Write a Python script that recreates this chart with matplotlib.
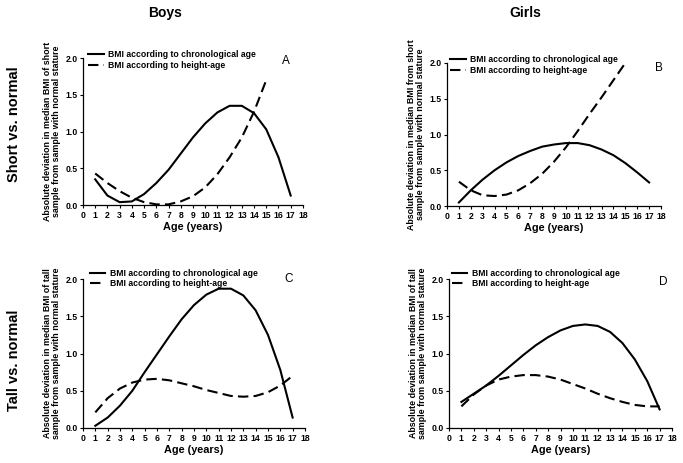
import matplotlib
matplotlib.use("Agg")
import matplotlib.pyplot as plt
from matplotlib.lines import Line2D

plt.rcParams['font.family'] = ['Liberation Sans', 'DejaVu Sans']

ages_solid = list(range(1, 18))
ages_dash_short = list(range(1, 16))
ages_dash_tall = list(range(1, 18))

a_chrono = [0.35, 0.13, 0.04, 0.05, 0.15, 0.30, 0.48, 0.70, 0.92, 1.11, 1.26, 1.35, 1.35, 1.25, 1.03, 0.65, 0.13]
a_height = [0.43, 0.30, 0.19, 0.10, 0.04, 0.01, 0.01, 0.05, 0.12, 0.24, 0.42, 0.65, 0.92, 1.27, 1.70]

b_chrono = [0.05, 0.22, 0.37, 0.50, 0.61, 0.70, 0.77, 0.83, 0.86, 0.88, 0.88, 0.85, 0.79, 0.71, 0.60, 0.47, 0.33]
b_height = [0.34, 0.22, 0.15, 0.14, 0.16, 0.22, 0.32, 0.45, 0.62, 0.82, 1.05, 1.29, 1.52, 1.76, 2.00]

c_chrono = [0.03, 0.14, 0.30, 0.50, 0.75, 0.99, 1.23, 1.46, 1.65, 1.79, 1.87, 1.87, 1.78, 1.58, 1.25, 0.78, 0.14]
c_height = [0.21, 0.40, 0.53, 0.61, 0.65, 0.66, 0.64, 0.60, 0.56, 0.51, 0.47, 0.43, 0.42, 0.43, 0.48, 0.57, 0.70]

d_chrono = [0.35, 0.46, 0.57, 0.70, 0.84, 0.98, 1.11, 1.22, 1.31, 1.37, 1.39, 1.37, 1.29, 1.14, 0.92, 0.63, 0.25]
d_height = [0.29, 0.45, 0.57, 0.65, 0.69, 0.71, 0.71, 0.69, 0.65, 0.59, 0.53, 0.46, 0.40, 0.35, 0.31, 0.29, 0.29]

legend_labels = ["BMI according to chronological age", "BMI according to height-age"]
ylabels = {
    "A": "Absolute deviation in median BMI of short\nsample from sample with normal stature",
    "B": "Absolute deviation in median BMI from short\nsample from sample with normal stature",
    "C": "Absolute deviation in median BMI of tall\nsample from sample with normal stature",
    "D": "Absolute deviation in median BMI of tall\nsample from sample with normal stature",
}
xticks = list(range(0, 19))
yticks = [0.0, 0.5, 1.0, 1.5, 2.0]

fig = plt.figure(figsize=(6.83, 4.63), dpi=100)

panels = [
    ("A", [0.1215, 0.557, 0.322, 0.3177], ages_solid, a_chrono, ages_dash_short, a_height, (0.023, 1.056), 0.3, (16.6, 1.96)),
    ("B", [0.6545, 0.555, 0.3133, 0.309], ages_solid, b_chrono, ages_dash_short, b_height, (0.014, 1.058), 0.3, (17.8, 1.93)),
    ("C", [0.1215, 0.0756, 0.325, 0.3218], ages_solid, c_chrono, ages_dash_tall, c_height, (0.03, 1.069), 0.12, (16.7, 2.0)),
    ("D", [0.6574, 0.0756, 0.3265, 0.3218], ages_solid, d_chrono, ages_dash_tall, d_height, (0.013, 1.069), 0.2, (17.3, 1.96)),
]

for letter, rect, xs, ys, xd, yd, legpos, lspace, letpos in panels:
    ax = fig.add_axes(rect)
    ax.plot(xs, ys, color='black', lw=1.5, ls='-')
    ax.plot(xd, yd, color='black', lw=1.5, ls=(0, (5, 2.5)))
    ax.set_xlim(0, 18)
    ax.set_ylim(0, 2.0)
    ax.set_xticks(xticks)
    ax.set_yticks(yticks)
    ax.set_yticklabels([f"{v:.1f}" for v in yticks])
    ax.tick_params(labelsize=6.2, length=2.5, width=0.8, pad=1.5)
    for lab in ax.get_xticklabels() + ax.get_yticklabels():
        lab.set_fontweight('bold')
    ax.spines['top'].set_visible(False)
    ax.spines['right'].set_visible(False)
    ax.spines['left'].set_linewidth(0.9)
    ax.spines['bottom'].set_linewidth(0.9)
    ax.set_xlabel("Age (years)", fontsize=7.8, fontweight='bold', labelpad=2)
    ax.set_ylabel(ylabels[letter], fontsize=6.4, fontweight='bold', labelpad=3, linespacing=1.05)
    handles = [Line2D([], [], color='black', lw=1.5, ls='-'),
               Line2D([], [], color='black', lw=1.5, ls=(0, (5, 2.5)))]
    leg = ax.legend(handles, legend_labels, loc='upper left', bbox_to_anchor=legpos,
                    frameon=False, fontsize=6.2, handlelength=1.8, handletextpad=0.55,
                    labelspacing=lspace, borderaxespad=0, borderpad=0)
    for t in leg.get_texts():
        t.set_fontweight('bold')
    ax.text(letpos[0], letpos[1], letter, fontsize=8.5, ha='center', va='center')

fig.text(0.2416, 0.972, "Boys", fontsize=10, fontweight='bold', ha='center', va='center')
fig.text(0.7687, 0.972, "Girls", fontsize=10, fontweight='bold', ha='center', va='center')
fig.text(0.021, 0.732, "Short vs. normal", fontsize=10.5, fontweight='bold', rotation=90, ha='center', va='center')
fig.text(0.021, 0.222, "Tall vs. normal", fontsize=10.5, fontweight='bold', rotation=90, ha='center', va='center')

fig.savefig("out.png", dpi=100)
